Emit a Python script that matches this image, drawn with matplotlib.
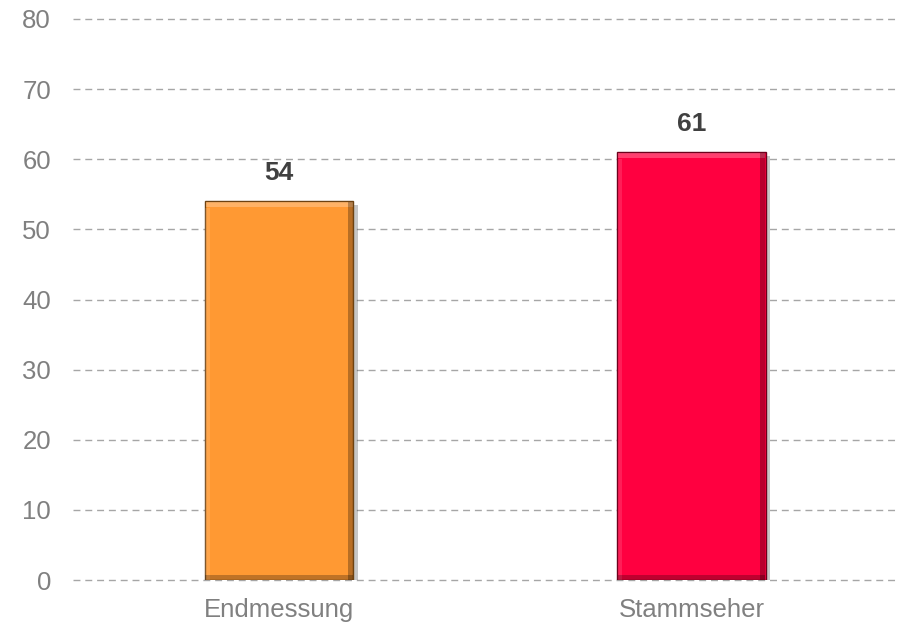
import matplotlib.pyplot as plt
import matplotlib.patheffects as pe

plt.rcParams['font.family'] = ['Liberation Sans', 'DejaVu Sans']

categories = ['Endmessung', 'Stammseher']
values = [54, 61]
bar_colors = ['#FF9933', '#FF0040']
edge_colors = ['#6E4210', '#6E001C']
yticks = [0, 10, 20, 30, 40, 50, 60, 70, 80]

fig = plt.figure(figsize=(9.03, 6.25), dpi=100)
ax = fig.add_axes([0.081, 0.072, 0.913, 0.8976])

x = list(range(len(categories)))
w = 0.36
bars = ax.bar(x, values, width=w, color=bar_colors, edgecolor=edge_colors,
              linewidth=1.0, zorder=3)
for b in bars:
    b.set_path_effects([pe.SimplePatchShadow(offset=(3, -3), alpha=0.3, shadow_rgbFace='#444444'),
                        pe.Normal()])

# bevel: light strip on top and left, dark strip on right and bottom
ax.bar(x, [0.8] * len(x), width=w - 0.004, bottom=[v - 0.85 for v in values],
       color='white', alpha=0.25, linewidth=0, zorder=4)
ax.bar([xi - w / 2 + 0.006 for xi in x], [v - 0.9 for v in values], width=0.01,
       color='white', alpha=0.12, linewidth=0, zorder=4)
ax.bar([xi + w / 2 - 0.007 for xi in x], [v - 0.1 for v in values], width=0.012,
       color='black', alpha=0.28, linewidth=0, zorder=4)
ax.bar(x, [0.7] * len(x), width=w - 0.002, bottom=0.05,
       color='black', alpha=0.25, linewidth=0, zorder=4)

for xi, v in zip(x, values):
    ax.text(xi, v + 2.3, str(v), ha='center', va='bottom', fontsize=19,
            fontweight='bold', color='#404040')

ax.set_ylim(0, 80)
ax.set_xlim(-0.5, 1.5)
ax.set_yticks(yticks)
ax.set_xticks(x)
ax.set_xticklabels(categories)
ax.tick_params(length=0, labelsize=18.5, labelcolor='#808080')
ax.tick_params(axis='x', pad=13)
ax.tick_params(axis='y', pad=16)
ax.yaxis.grid(True, linestyle=(0, (5, 3.5)), color='#A6A6A6', linewidth=1, zorder=0)
for gl in ax.get_ygridlines():
    gl.set_clip_on(False)
ax.set_axisbelow(True)
for s in ax.spines.values():
    s.set_visible(False)

fig.savefig('out.png', dpi=100)
